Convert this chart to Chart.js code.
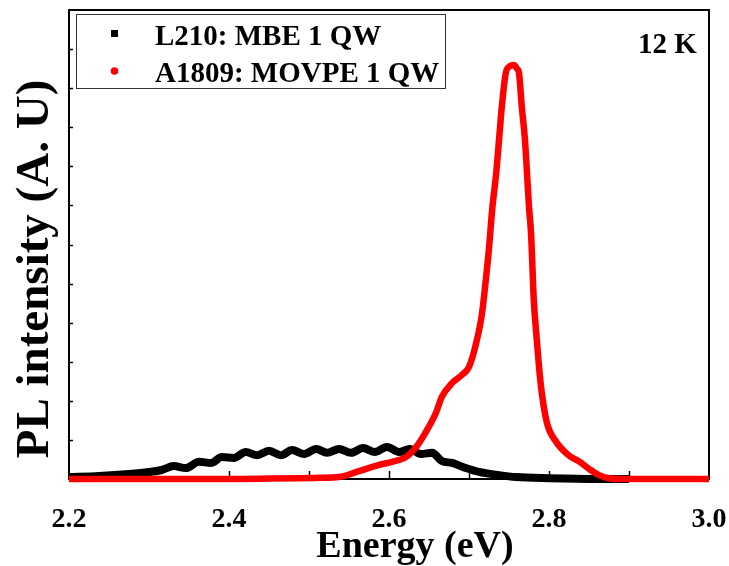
<!DOCTYPE html>
<html>
<head>
<meta charset="utf-8">
<title>PL spectra 12 K</title>
<script src="https://cdn.jsdelivr.net/npm/chart.js@4.4.0/dist/chart.umd.min.js"></script>
<style>
  html, body { margin:0; padding:0; background:#fff; }
  #wrap { width:729px; height:566px; }
</style>
</head>
<body>
<div id="wrap"><canvas id="plChart" width="729" height="566"></canvas></div>
<script>
/* ---------- data ---------- */

// L210: MBE 1 QW (black)
const mbeEnergy = [2.2, 2.2375, 2.275, 2.3, 2.316, 2.331, 2.346, 2.3625, 2.3775, 2.391, 2.406,
  2.421, 2.435, 2.45, 2.465, 2.479, 2.494, 2.509, 2.5225, 2.5375, 2.5525, 2.5675, 2.5825,
  2.5975, 2.6125, 2.626, 2.64, 2.654, 2.666, 2.679, 2.696, 2.7125, 2.7375, 2.759, 2.8, 2.8625, 2.9];
const mbeIntensity = [0.05, 0.08, 0.13, 0.18, 0.23, 0.33, 0.28, 0.44, 0.41, 0.56, 0.54,
  0.69, 0.61, 0.72, 0.61, 0.74, 0.64, 0.77, 0.67, 0.77, 0.67, 0.79, 0.69,
  0.82, 0.69, 0.77, 0.64, 0.67, 0.46, 0.41, 0.28, 0.18, 0.10, 0.05, 0.02, 0, 0];

// A1809: MOVPE 1 QW (red)
const movpeEnergy = [2.2, 2.3, 2.4, 2.45, 2.4875, 2.5125, 2.5375, 2.5625, 2.5875, 2.604, 2.621,
  2.634, 2.646, 2.659, 2.666, 2.679, 2.691, 2.7, 2.709, 2.716, 2.72, 2.725, 2.729, 2.734,
  2.7375, 2.741, 2.746, 2.751, 2.756, 2.76, 2.7625, 2.766, 2.77, 2.7725, 2.775, 2.7775,
  2.781, 2.784, 2.7875, 2.791, 2.7975, 2.809, 2.825, 2.8375, 2.85, 2.8625, 2.875, 2.89, 3.0];
const movpeIntensity = [0, 0, 0, 0.01, 0.02, 0.03, 0.05, 0.2, 0.36, 0.44, 0.56,
  0.82, 1.2, 1.71, 2.1, 2.46, 2.66, 2.87, 3.48, 4.2, 4.9, 5.9, 6.9, 7.83,
  8.67, 9.52, 10.39, 10.56, 10.59, 10.5, 10.39, 9.52, 8.67, 7.83, 6.96, 6.3,
  4.58, 3.74, 2.87, 2.2, 1.43, 0.95, 0.6, 0.45, 0.26, 0.1, 0.02, 0, 0];

const seriesLabels = ["L210: MBE 1 QW", "A1809: MOVPE 1 QW"];
const tempLabel    = "12 K";
const xTitle       = "Energy (eV)";
const yTitle       = "PL intensity (A. U)";

const xTickLabels = [2.2, 2.4, 2.6, 2.8, 3.0];
const xTickMarks  = [2.3, 2.4, 2.5, 2.6, 2.7, 2.8, 2.9];
const yTickMarks  = [1, 2, 3, 4, 5, 6, 7, 8, 9, 10, 11];


/* ---------- helpers ---------- */

const SERIF = '"Liberation Serif", "Times New Roman", serif';

function toPoints(xs, ys){
  return xs.map((x, i) => ({ x: x, y: ys[i] }));
}


/* ---------- frame, inner ticks, legend, labels ---------- */

const decorPlugin = {
  id: "decor",
  beforeDatasetsDraw(chart){
    const { ctx, chartArea: a, scales: { x, y } } = chart;
    ctx.save();
    ctx.strokeStyle = "#000";

    // inner tick marks
    ctx.lineWidth = 1.5;
    xTickMarks.forEach(v => {
      const px = Math.round(x.getPixelForValue(v)) + 0.5;
      ctx.beginPath();
      ctx.moveTo(px, a.bottom);
      ctx.lineTo(px, a.bottom - 8);
      ctx.stroke();
    });
    yTickMarks.forEach(v => {
      const py = Math.round(y.getPixelForValue(v)) + 0.5;
      ctx.beginPath();
      ctx.moveTo(a.left, py);
      ctx.lineTo(a.left + 4, py);
      ctx.stroke();
    });

    // frame
    ctx.lineWidth = 2;
    ctx.strokeRect(a.left, a.top, a.right - a.left, a.bottom - a.top);
    ctx.restore();
  },
  afterDraw(chart){
    const { ctx } = chart;
    ctx.save();

    // legend box
    ctx.strokeStyle = "#333";
    ctx.lineWidth = 1;
    ctx.strokeRect(76.5, 14.5, 369, 74);

    ctx.fillStyle = "#000";
    ctx.fillRect(111, 30, 7, 7);
    ctx.fillStyle = "#ff0000";
    ctx.beginPath();
    ctx.arc(114.5, 71, 3.8, 0, Math.PI * 2);
    ctx.fill();

    ctx.fillStyle = "#000";
    ctx.font = "bold 29px " + SERIF;
    ctx.textAlign = "left";
    ctx.textBaseline = "alphabetic";
    ctx.fillText(seriesLabels[0], 155, 45);
    ctx.fillText(seriesLabels[1], 155, 82);

    // temperature
    ctx.fillText(tempLabel, 638, 53);

    // x title
    ctx.textAlign = "center";
    ctx.font = "bold 38px " + SERIF;
    ctx.fillText(xTitle, 415, 557);

    // y title
    ctx.translate(36, 269);
    ctx.rotate(-Math.PI / 2);
    ctx.textBaseline = "middle";
    ctx.font = "bold 47px " + SERIF;
    ctx.fillText(yTitle, 0, 0);

    ctx.restore();
  }
};


/* ---------- chart ---------- */

new Chart(document.getElementById("plChart"), {
  type: "line",
  data: {
    datasets: [
      {
        label: seriesLabels[1],
        data: toPoints(movpeEnergy, movpeIntensity),
        borderColor: "#ff0000",
        borderWidth: 6.5,
        pointRadius: 0,
        cubicInterpolationMode: "monotone",
        clip: false,
        order: 0
      },
      {
        label: seriesLabels[0],
        data: toPoints(mbeEnergy, mbeIntensity),
        borderColor: "#000",
        borderWidth: 8,
        pointRadius: 0,
        cubicInterpolationMode: "monotone",
        clip: false,
        order: 1
      }
    ]
  },
  options: {
    responsive: false,
    animation: false,
    devicePixelRatio: 1,
    layout: { padding: { top: 10, right: 20, left: 0, bottom: 0 } },
    plugins: {
      legend: { display: false },
      tooltip: { enabled: false }
    },
    scales: {
      x: {
        type: "linear",
        position: "bottom",
        min: 2.2,
        max: 3.0,
        afterBuildTicks: (scale) => { scale.ticks = xTickLabels.map(v => ({ value: v })); },
        afterFit: (scale) => {
          scale.height = 87;
          // let the end labels hang over the frame, as in the original
          scale.paddingLeft = 0;
          scale.paddingRight = 0;
        },
        grid: { display: false, drawTicks: false },
        border: { display: false },
        ticks: {
          color: "#000",
          padding: 24,
          maxRotation: 0,
          font: { family: SERIF, size: 28, weight: "bold" },
          callback: (v) => Number(v).toFixed(1)
        }
      },
      y: {
        type: "linear",
        min: 0,
        max: 12,
        afterFit: (scale) => { scale.width = 69; },
        grid: { display: false, drawTicks: false },
        border: { display: false },
        ticks: { display: false }
      }
    }
  },
  plugins: [decorPlugin]
});
</script>
</body>
</html>
